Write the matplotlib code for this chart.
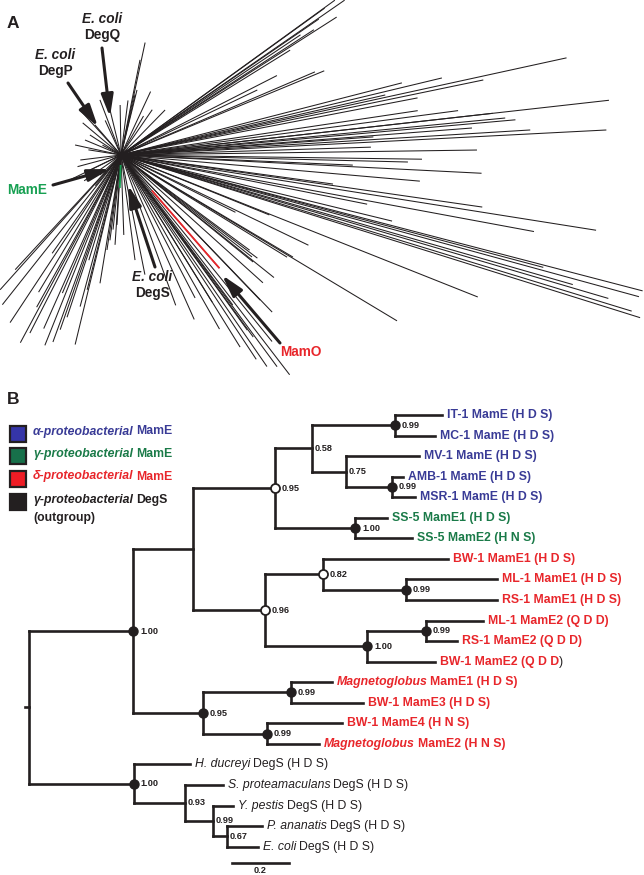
import numpy as np
import matplotlib.pyplot as plt
from matplotlib.collections import LineCollection
from matplotlib.patches import Rectangle

plt.rcParams['font.family'] = ['Liberation Sans', 'DejaVu Sans']

INK = '#231f20'
group_color = {'alpha': '#393b96', 'gamma': '#1a7a48', 'delta': '#e8262b', 'out': INK}

# ---------------- panel A: unrooted tree, rays from the hub (deg, length in px)
ray_angle = [34.7, 35.9, 32.6, 35.8, 33.8, 31.8, 34.5, 33.0,
             23.2, 22.5, 25.5, 27.0,
             14.4, 12.3, 11.7, 12.8, 10.9, 13.5,
             6.4, 5.1, 5.5, 6.4, 2.95, 4.4, 4.1, 7.5, 8.5, 3.5,
             0.8, -0.8, -1.4, -2.9, -2.5, -7.8, -5.0, 1.8,
             -9.0, -8.2, -13.7, -11.3, -10.5,
             -14.6, -15.3, -17.4, -17.0, -16.4, -14.9, -16.0,
             -21.7, -31.0, -25.7, -31.6, -38.7, -37.1, -26.6,
             -36.5, -37.9, -39.0, -42.0, -46.1, -46.2, -30.7, -22.0,
             -54.2, -55.4, -53.6, -52.5, -58.2, -54.0, -53.3, -58.2, -62.6,
             -49.0, -51.0, -56.5, -60.5, -66.0, -70.0,
             -82.4, -78.7, -96.1, -93.8, -97.4, -93.3, -98.4, -88.0,
             -99.3, -104.1, -105.1, -108.4, -109.2, -110.0, -119.0, -117.1,
             -118.2, -123.5, -128.4, -103.6, -111.8, -131.9, -132.7, -114.0,
             -121.0, -125.0, -113.0, -107.0,
             130.9, 132.3, 157.4, 167.7, 187.0, 205.8, 223.6, 206.0, 114.6,
             103.7, 110.9, 147.2, 171.0, 152.0, 140.0, 195.0, 215.0, 230.0,
             77.9, 78.7, 76.9, 82.7, 91.0, 76.2, 55.4, 45.6, 65.0, 60.0]
ray_len = [272, 264, 256, 251, 216, 199, 240, 230,
           211, 220, 151, 175,
           290, 456, 370, 271, 302, 330,
           374, 396, 386, 491, 486, 352, 253, 340, 300, 410,
           356, 301, 287, 361, 232, 214, 300, 250,
           481, 365, 279, 251, 420,
           539, 537, 544, 534, 508, 437, 470,
           384, 322, 208, 195, 196, 171, 128,
           160, 166, 170, 191, 218, 201, 200, 160,
           216, 257, 263, 277, 226, 225, 187, 173, 161,
           150, 240, 245, 200, 180, 160,
           106, 122, 75, 90, 86, 70, 96, 80,
           130, 139, 157, 171, 185, 199, 174, 200,
           213, 201, 191, 195, 205, 181, 156, 190,
           160, 120, 150, 110,
           40, 61, 39, 47, 41, 34, 29, 57, 38,
           46, 59, 37, 33, 21, 50, 45, 45, 40,
           115, 97, 62, 55, 50, 67, 55, 63, 70, 45]

mame_angle, mame_r0, mame_r1 = -92, 10, 33
mamo_angle, mamo_r0, mamo_r1 = -49, 47, 150

# annotation arrows of panel A: (label lines, label pos, tail, head, colour)
arrow_labels = [(['E. coli', 'DegQ'], (-19, 136), (-19, 107), (-11, 38), INK),
                (['E. coli', 'DegP'], (-66, 100), (-53, 72), (-23, 28), INK),
                (['MamE'], (-94, -35), (-68, -30), (-11, -14), '#17a052'),
                (['E. coli', 'DegS'], (31, -122), (34, -112), (7, -30), INK),
                (['MamO'], (180, -197), (159, -188), (101, -120), '#e8262b')]

# ---------------- panel B: Bayesian tree
node_name = ['root', 'n1', 'n2', 'n4', 'n6', 'n8', 'n9', 'n10', 'n7', 'n5', 'n11',
             'n13', 'n12', 'n14', 'n3', 'n15', 'n16', 'n17', 'n18', 'n19', 'n20']
node_parent = [None, 'root', 'n1', 'n2', 'n4', 'n6', 'n6', 'n9', 'n4', 'n2', 'n5',
               'n11', 'n5', 'n12', 'n1', 'n3', 'n3', 'root', 'n17', 'n18', 'n19']
node_depth = [0.0, 0.365, 0.575, 0.863, 0.993, 1.284, 1.112, 1.274, 1.144, 0.828, 1.032,
              1.323, 1.186, 1.393, 0.611, 0.919, 0.835, 0.368, 0.547, 0.646, 0.695]
node_support = ['', '1.00', '', '0.95', '0.58', '0.99', '0.75', '0.99', '1.00', '0.96', '0.82',
                '0.99', '1.00', '0.99', '0.95', '0.99', '0.99', '1.00', '0.93', '0.99', '0.67']
node_dot = ['', 'filled', '', 'open', '', 'filled', '', 'filled', 'filled', 'open', 'open',
            'filled', 'filled', 'filled', 'filled', 'filled', 'filled', 'filled', '', '', '']

leaf_parent = ['n8', 'n8', 'n9', 'n10', 'n10', 'n7', 'n7', 'n11', 'n13', 'n13', 'n14',
               'n14', 'n12', 'n15', 'n15', 'n16', 'n16', 'n17', 'n18', 'n19', 'n20', 'n20']
leaf_depth = [1.449, 1.425, 1.368, 1.312, 1.354, 1.256, 1.344, 1.470, 1.642, 1.642, 1.593,
              1.502, 1.425, 1.063, 1.172, 1.098, 1.018, 0.565, 0.681, 0.716, 0.818, 0.804]
leaf_italic = [''] * 13 + ['Magnetoglobus', '', '', 'Magnetoglobus',
                           'H. ducreyi', 'S. proteamaculans', 'Y. pestis', 'P. ananatis', 'E. coli']
leaf_label = ['IT-1 MamE (H D S)', 'MC-1 MamE (H D S)', 'MV-1 MamE (H D S)',
              'AMB-1 MamE (H D S)', 'MSR-1 MamE (H D S)', 'SS-5 MamE1 (H D S)',
              'SS-5 MamE2 (H N S)', 'BW-1 MamE1 (H D S)', 'ML-1 MamE1 (H D S)',
              'RS-1 MamE1 (H D S)', 'ML-1 MamE2 (Q D D)', 'RS-1 MamE2 (Q D D)',
              'BW-1 MamE2 (Q D D', 'MamE1 (H D S)', 'BW-1 MamE3 (H D S)',
              'BW-1 MamE4 (H N S)', 'MamE2 (H N S)', 'DegS (H D S)', 'DegS (H D S)',
              'DegS (H D S)', 'DegS (H D S)', 'DegS (H D S)']
leaf_tail = [''] * 12 + [')'] + [''] * 9
leaf_group = ['alpha'] * 5 + ['gamma'] * 2 + ['delta'] * 10 + ['out'] * 5

legend_italic = ['α-proteobacterial', 'γ-proteobacterial', 'δ-proteobacterial', 'γ-proteobacterial']
legend_plain = ['MamE', 'MamE', 'MamE', 'DegS']
legend_group = ['alpha', 'gamma', 'delta', 'out']
legend_fill = ['#3535a8', '#17704a', '#ee1c25', INK]

scale_len = 0.2

fig = plt.figure(figsize=(6.44, 8.75), dpi=100)

# ---- panel A
ax_a = fig.add_axes([0, 1 - 375 / 875, 1, 375 / 875])
ax_a.set_xlim(-121, 523)
ax_a.set_ylim(-220, 155)
ax_a.axis('off')
th = np.radians(ray_angle)
L = np.array(ray_len)
segs = [[(0, 0), (l * np.cos(t), l * np.sin(t))] for t, l in zip(th, L)]
ax_a.add_collection(LineCollection(segs, colors=INK, linewidths=0.75))
for ang, r0, r1, col in [(mame_angle, mame_r0, mame_r1, '#17a052'),
                         (mamo_angle, mamo_r0, mamo_r1, '#e8262b')]:
    t = np.radians(ang)
    ax_a.plot([r0 * np.cos(t), r1 * np.cos(t)], [r0 * np.sin(t), r1 * np.sin(t)],
              color=col, lw=1.3, solid_capstyle='butt')
for lines, pos, tail, head, col in arrow_labels:
    ax_a.annotate('', xy=head, xytext=tail,
                  arrowprops=dict(arrowstyle='-|>,head_length=1.1,head_width=0.3',
                                  mutation_scale=12, lw=2.2, color=INK,
                                  shrinkA=0, shrinkB=0))
    if len(lines) == 2:
        ax_a.text(pos[0], pos[1], lines[0], ha='center', va='center', fontsize=9.8,
                  fontweight='bold', style='italic', color=col)
        ax_a.text(pos[0], pos[1] - 16, lines[1], ha='center', va='center', fontsize=9.8,
                  fontweight='bold', color=col)
    else:
        ax_a.text(pos[0], pos[1], lines[0], ha='center', va='center', fontsize=9.8,
                  fontweight='bold', color=col)

# ---- panel B
ax_b = fig.add_axes([0, 0, 1, 495 / 875])
ax_b.set_xlim(-29 / 285, 615 / 285)
ax_b.set_ylim(22.38, -1.703)
ax_b.axis('off')

depth = dict(zip(node_name, node_depth))
children = {n: [] for n in node_name}
for n, p in zip(node_name, node_parent):
    if p is not None:
        children[p].append(n)
for i, p in enumerate(leaf_parent):
    children[p].append(i)
ypos = {}


def node_y(n):
    if isinstance(n, int):
        return float(n)
    ys = [node_y(c) for c in children[n]]
    ypos[n] = (min(ys) + max(ys)) / 2
    return ypos[n]


node_y('root')
tree_kw = dict(color=INK, lw=1.9, solid_capstyle='projecting')
for n in node_name:
    ys = []
    for c in children[n]:
        cy = float(c) if isinstance(c, int) else ypos[c]
        cd = leaf_depth[c] if isinstance(c, int) else depth[c]
        ax_b.plot([depth[n], cd], [cy, cy], **tree_kw)
        ys.append(cy)
    ax_b.plot([depth[n], depth[n]], [min(ys), max(ys)], **tree_kw)
ax_b.plot([-0.014, 0], [ypos['root']] * 2, **tree_kw)

for n, sup, dot in zip(node_name, node_support, node_dot):
    x, y = depth[n], ypos[n]
    if dot == 'filled':
        ax_b.plot(x, y, 'o', ms=6.5, mfc=INK, mec=INK, zorder=5)
    elif dot == 'open':
        ax_b.plot(x, y, 'o', ms=6.5, mfc='white', mec=INK, mew=1.3, zorder=5)
    if sup:
        ax_b.annotate(sup, xy=(x, y), xytext=(5 if dot else 2, 0), textcoords='offset points',
                      ha='left', va='center', fontsize=6.6, fontweight='bold', color=INK)


def chain(ax, xy, pieces, first_kw, gap=2.0):
    # pieces of one label in different styles, set one after another
    prev = None
    for txt, kw, spaced in pieces:
        if not txt:
            continue
        if prev is None:
            prev = ax.annotate(txt, xy=xy, ha='left', annotation_clip=False, **first_kw, **kw)
        else:
            prev = ax.annotate(txt, xy=(1, 0), xycoords=prev, xytext=(gap if spaced else 0, 0),
                               textcoords='offset points', ha='left', va='bottom',
                               annotation_clip=False, **kw)
    return prev


for i in range(len(leaf_label)):
    col = group_color[leaf_group[i]]
    w = 'normal' if leaf_group[i] == 'out' else 'bold'
    base = dict(fontsize=8.8, color=col, fontweight=w)
    pieces = [(leaf_italic[i], dict(base, style='italic'), False),
              (leaf_label[i], base, bool(leaf_italic[i])),
              (leaf_tail[i], dict(fontsize=8.8, color=INK, fontweight='normal'), False)]
    chain(ax_b, (leaf_depth[i], i), pieces,
          dict(xytext=(3.5, 0), textcoords='offset points', va='center'))

sb_x0 = 0.712
sb_y = 21.78
ax_b.plot([sb_x0, sb_x0 + scale_len], [sb_y, sb_y], color=INK, lw=1.9)
ax_b.text(sb_x0 + scale_len / 2, 22.16, f'{scale_len:.1f}', ha='center', va='center',
          fontsize=6.6, fontweight='bold', color=INK)

# ---- overlay: panel letters and legend (pixel coordinates)
ax_t = fig.add_axes([0, 0, 1, 1])
ax_t.set_xlim(0, 644)
ax_t.set_ylim(875, 0)
ax_t.axis('off')
ax_t.patch.set_alpha(0)
ax_t.text(7, 24, 'A', fontsize=12.5, fontweight='bold', va='center', ha='left', color=INK)
ax_t.text(7, 400, 'B', fontsize=12.5, fontweight='bold', va='center', ha='left', color=INK)
leg_y = [433.5, 456, 478.5, 501.5]
for k in range(4):
    ax_t.add_patch(Rectangle((10, leg_y[k] - 8), 16, 16, facecolor=legend_fill[k],
                             edgecolor=INK, lw=1.6))
    col = group_color[legend_group[k]]
    base = dict(fontsize=8.8, color=col, fontweight='bold')
    chain(ax_t, (33, leg_y[k] - 2),
          [(legend_italic[k], dict(base, style='italic'), False), (legend_plain[k], base, True)],
          dict(va='center'))
ax_t.text(33, 518, '(outgroup)', fontsize=8.8, fontweight='bold', color=INK,
          va='center', ha='left')

fig.savefig('out.png', dpi=100)
